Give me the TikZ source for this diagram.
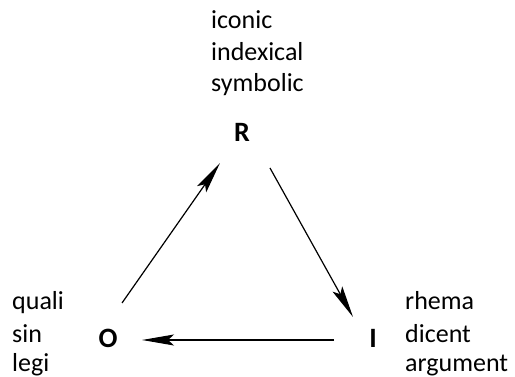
\documentclass[tikz,border=0pt]{standalone}
\usepackage{fontspec}
\setmainfont{Carlito}
\usetikzlibrary{arrows.meta,calc}
\begin{document}
\begin{tikzpicture}[x=1pt,y=-1pt,
  lbl/.style={anchor=base west,inner sep=0pt,font=\fontsize{26}{31}\selectfont},
  corner/.style={anchor=center,inner sep=0pt,font=\fontsize{28}{34}\selectfont\bfseries},
  arr/.style={line width=1.2pt,-{Stealth[length=32pt,width=11pt,inset=6pt]}}]
\useasboundingbox (0,0) rectangle (515,377);
% top labels
\node[lbl] (iconic) at (211,29) {iconic};
\node[lbl] (indexical) at (211,61) {indexical};
\node[lbl] (symbolic) at (211,92) {symbolic};
% left labels
\node[lbl] (quali) at (12,310) {quali};
\node[lbl] (sin) at (12,342) {sin};
\node[lbl] (legi) at (12,372) {legi};
% right labels
\node[lbl] (rhema) at (405,310) {rhema};
\node[lbl] (dicent) at (405,342) {dicent};
\node[lbl] (argument) at (405,372) {argument};
% corners
\node[corner] (R) at (242,132) {R};
\node[corner] (O) at (108,338) {O};
\node[corner] (I) at (373,338) {I};
% arrows
\draw[arr] ($(O.center)+(14,-35)$) -- ($(R.center)+(-22,31)$);
\draw[arr] ($(R.center)+(28,36)$) -- ($(I.center)+(-20,-21)$);
\draw[arr] ($(I.center)+(-39,2)$) -- ($(O.center)+(34,2)$);
\end{tikzpicture}
\end{document}
